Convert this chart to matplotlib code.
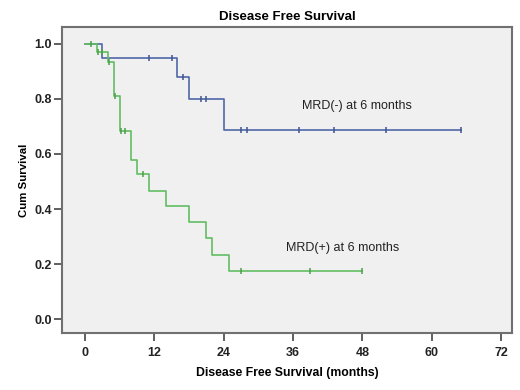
import matplotlib.pyplot as plt

# MRD(-) group: step times and survival after each step
neg_times = [0, 3, 16, 18, 24, 65]
neg_surv = [1.0, 0.95, 0.88, 0.80, 0.686, 0.686]
neg_cens_t = [11, 15, 17, 20, 21, 27, 28, 37, 43, 52, 65]
neg_cens_s = [0.95, 0.95, 0.88, 0.80, 0.80, 0.686, 0.686, 0.686, 0.686, 0.686, 0.686]

# MRD(+) group
pos_times = [0, 2, 4, 5, 6, 8, 9, 11, 14, 18, 21, 22, 25, 48]
pos_surv = [1.0, 0.969, 0.935, 0.81, 0.683, 0.578, 0.526, 0.467, 0.411,
            0.352, 0.294, 0.235, 0.176, 0.176]
pos_cens_t = [1, 2.2, 3, 4.2, 5.2, 6.3, 7, 10, 27, 39, 48]
pos_cens_s = [1.0, 0.969, 0.969, 0.935, 0.81, 0.683, 0.683, 0.526, 0.176, 0.176, 0.176]

x_ticks = [0, 12, 24, 36, 48, 60, 72]
y_ticks = [0.0, 0.2, 0.4, 0.6, 0.8, 1.0]

plt.rcParams['font.family'] = ['Liberation Sans', 'DejaVu Sans']

fig = plt.figure(figsize=(5.2, 3.9), dpi=100)
ax = fig.add_axes([0.12, 0.145, 0.865, 0.786])
ax.set_facecolor('#f0f0f0')

blue = '#5068a8'
green = '#62bd62'

ax.plot(neg_times, neg_surv, drawstyle='steps-post', color=blue, lw=1.2)
ax.plot(neg_cens_t, neg_cens_s, ls='none', marker='|', ms=5, mew=1.1, color='#3f5590')
ax.plot(pos_times, pos_surv, drawstyle='steps-post', color=green, lw=1.2)
ax.plot(pos_cens_t, pos_cens_s, ls='none', marker='|', ms=5, mew=1.1, color='#4aa04a')

ax.text(37.5, 0.775, 'MRD(-) at 6 months', fontsize=9, va='center', color='#222222')
ax.text(34.8, 0.258, 'MRD(+) at 6 months', fontsize=9, va='center', color='#222222')

ax.set_xlim(-3.9, 73.9)
ax.set_ylim(-0.051, 1.061)
ax.set_xticks(x_ticks)
ax.set_xticklabels([str(t) for t in x_ticks], fontweight='bold', fontsize=9)
ax.set_yticks(y_ticks)
ax.set_yticklabels(['%.1f' % t for t in y_ticks], fontweight='bold', fontsize=9)
ax.tick_params(axis='both', length=6, width=1.2, color='#444444', labelcolor='#222222')
ax.tick_params(axis='y', pad=1.5)

for s in ax.spines.values():
    s.set_color('#707070')
    s.set_linewidth(1.5)

ax.set_title('Disease Free Survival', fontweight='bold', fontsize=9.5, pad=5)
ax.set_xlabel('Disease Free Survival (months)', fontweight='bold', fontsize=8.8, labelpad=6)
ax.set_ylabel('Cum Survival', fontweight='bold', fontsize=8.2, labelpad=4)

fig.savefig('out.png', dpi=100)
